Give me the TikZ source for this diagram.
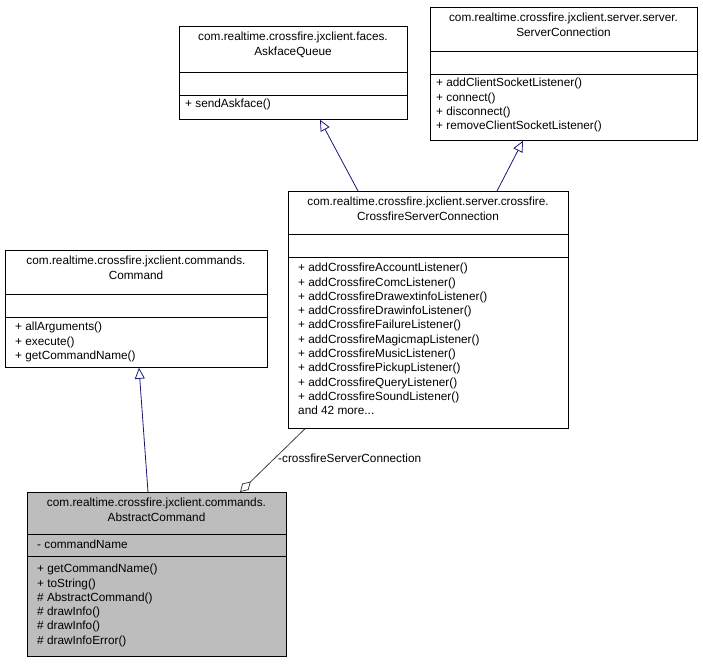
\documentclass[tikz,border=0pt]{standalone}
\usepackage{fontspec}
\setmainfont{Liberation Sans}
\usetikzlibrary{arrows.meta,calc}
\begin{document}
\begin{tikzpicture}[x=1pt,y=-1pt,
  box/.style={draw,line width=0.8pt,anchor=north west,inner sep=0pt},
  txt/.style={font=\fontsize{11.8}{14.3}\selectfont,inner sep=0pt,align=left,anchor=north west},
  ttl/.style={font=\fontsize{11.8}{14.3}\selectfont,inner sep=0pt,align=center,anchor=north},
  sep/.style={line width=0.8pt},
  inh/.style={draw=blue!40!black!90,line width=0.8pt,-{Triangle[open,length=11pt,width=10pt]}},
  agg/.style={draw=black!75,line width=0.8pt,-{Diamond[open,length=15pt,width=9pt]}}]
\useasboundingbox (0,0) rectangle (703,663);
% AskfaceQueue
\node[box,minimum width=228,minimum height=93] (ask) at (179,26) {};
\node[ttl] (askt) at (293,32) {com.realtime.crossfire.jxclient.faces.\\AskfaceQueue};
\draw[sep] (179,72) -- (407,72) (179,95) -- (407,95);
\node[txt] (askm) at (185,99) {+ sendAskface()};
% ServerConnection
\node[box,minimum width=267,minimum height=133] (srv) at (430,7) {};
\node[ttl] (srvt) at (563.5,13) {com.realtime.crossfire.jxclient.server.server.\\ServerConnection};
\draw[sep] (430,51) -- (697,51) (430,74) -- (697,74);
\node[txt] (srvm) at (436,78) {+ addClientSocketListener()\\+ connect()\\+ disconnect()\\+ removeClientSocketListener()};
% CrossfireServerConnection
\node[box,minimum width=280,minimum height=237] (cfs) at (288,191) {};
\node[ttl] (cfst) at (428,197) {com.realtime.crossfire.jxclient.server.crossfire.\\CrossfireServerConnection};
\draw[sep] (288,234) -- (568,234) (288,257) -- (568,257);
\node[txt] (cfsm) at (298,263) {+ addCrossfireAccountListener()\\+ addCrossfireComcListener()\\+ addCrossfireDrawextinfoListener()\\+ addCrossfireDrawinfoListener()\\+ addCrossfireFailureListener()\\+ addCrossfireMagicmapListener()\\+ addCrossfireMusicListener()\\+ addCrossfirePickupListener()\\+ addCrossfireQueryListener()\\+ addCrossfireSoundListener()\\and 42 more...};
% Command
\node[box,minimum width=262,minimum height=117] (cmd) at (5,250) {};
\node[ttl] (cmdt) at (136,256) {com.realtime.crossfire.jxclient.commands.\\Command};
\draw[sep] (5,294) -- (267,294) (5,317) -- (267,317);
\node[txt] (cmdm) at (15,322) {+ allArguments()\\+ execute()\\+ getCommandName()};
% AbstractCommand
\node[box,fill=black!26,minimum width=259,minimum height=164] (abs) at (27,492) {};
\node[ttl] (abst) at (156.5,498) {com.realtime.crossfire.jxclient.commands.\\AbstractCommand};
\draw[sep] (27,534) -- (286,534) (27,556) -- (286,556);
\node[txt] (absa) at (37,540) {- commandName};
\node[txt] (absm) at (37,564) {+ getCommandName()\\+ toString()\\\# AbstractCommand()\\\# drawInfo()\\\# drawInfo()\\\# drawInfoError()};
% connectors
\draw[inh] ($(cfs.north west)+(70,0)$) -- ($(ask.south west)+(141,0)$);
\draw[inh] ($(cfs.north west)+(209,0)$) -- ($(srv.south west)+(93,0)$);
\draw[inh] ($(abs.north west)+(121,0)$) -- ($(cmd.south west)+(134,0)$);
\draw[agg] ($(cfs.south west)+(17,0)$) -- ($(abs.north west)+(213,0)$);
\node[txt] (lbl) at (278,454) {-crossfireServerConnection};
\end{tikzpicture}
\end{document}
